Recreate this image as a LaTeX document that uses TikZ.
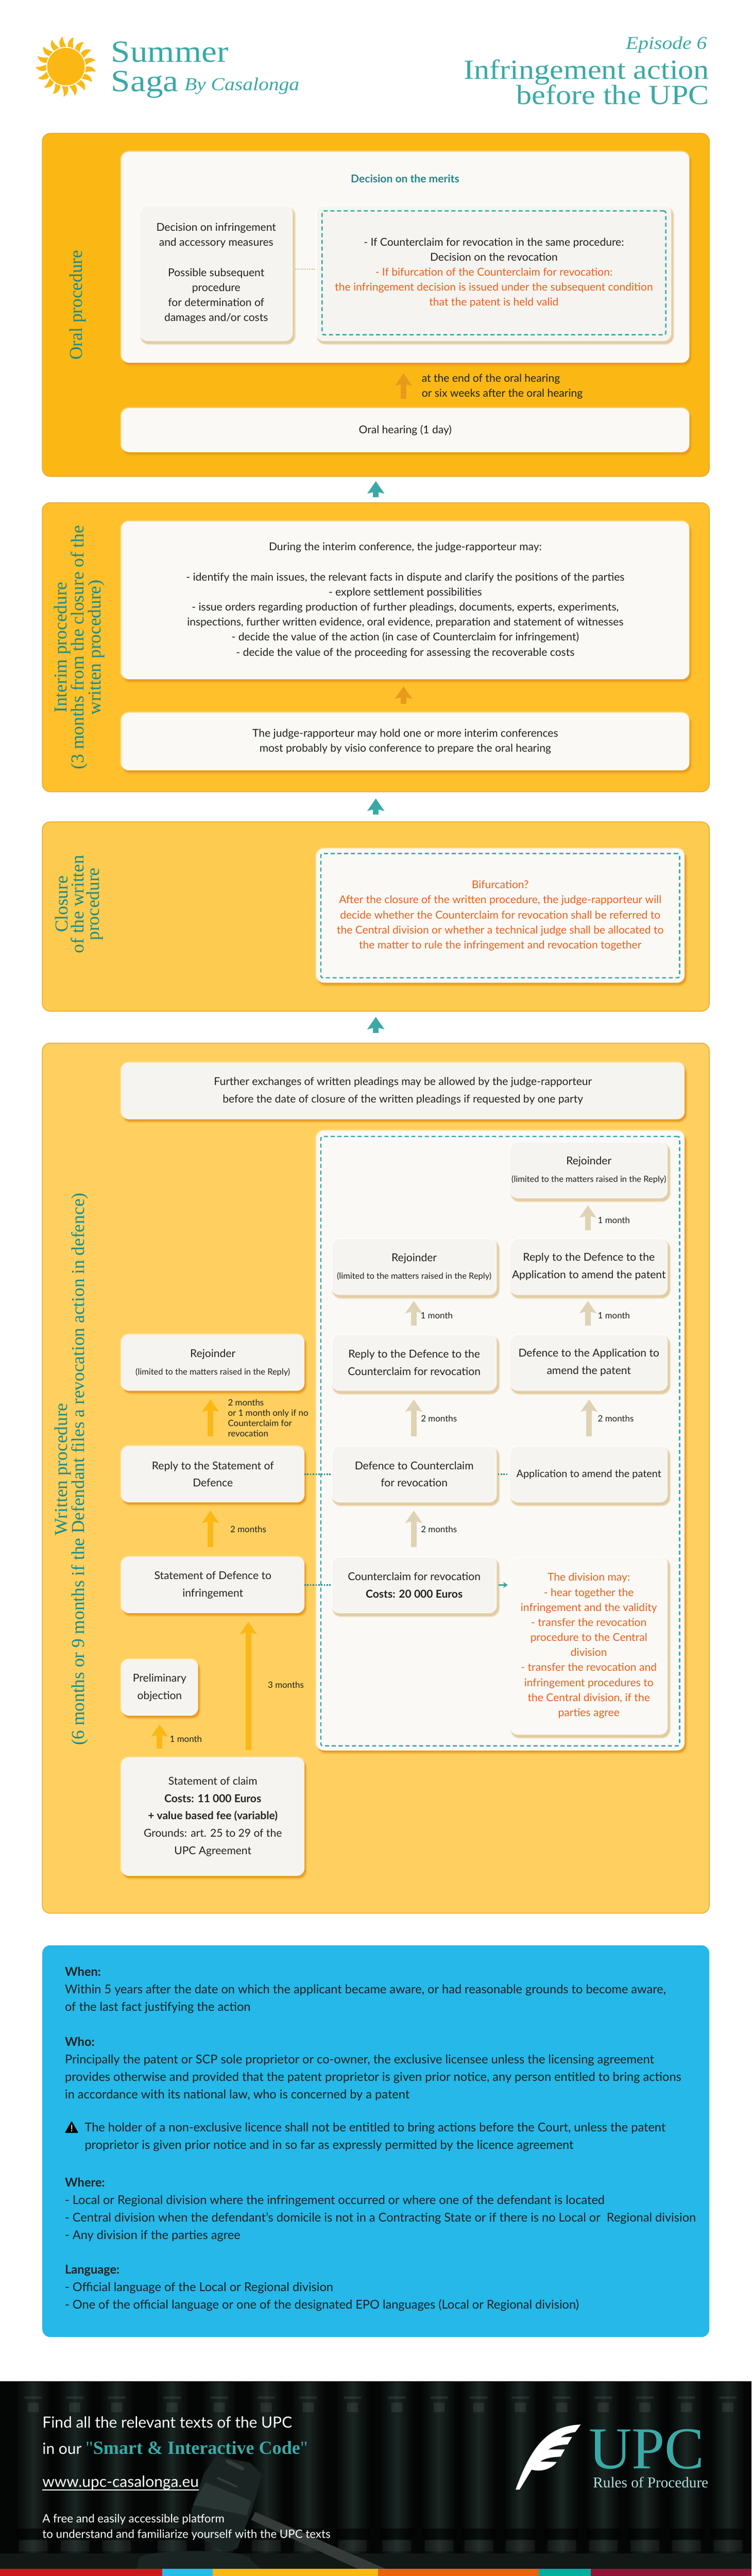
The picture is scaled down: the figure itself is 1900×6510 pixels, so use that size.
\documentclass[tikz,border=0pt]{standalone}
\usepackage{fontspec}
\usepackage{tikz}
\usetikzlibrary{arrows.meta}
\setmainfont{Lato}
\newfontfamily\headfont[FakeStretch=1.12]{Liberation Serif}
\newfontfamily\plainserif{Liberation Serif}

\definecolor{tealtitle}{HTML}{3AA9A6}
\definecolor{tealdark}{HTML}{1C8A88}
\definecolor{oraltone}{HTML}{FBB815}
\definecolor{interimtone}{HTML}{FFC02B}
\definecolor{closuretone}{HTML}{FCCB4F}
\definecolor{writtentone}{HTML}{FFD060}
\definecolor{paneledge}{HTML}{EBA82A}
\definecolor{bluetone}{HTML}{25B8E8}
\definecolor{amber}{HTML}{E79A1B}
\definecolor{beige}{HTML}{DFD3B5}
\definecolor{paperone}{HTML}{FAF9F6}
\definecolor{papertwo}{HTML}{F5F4F0}
\definecolor{inktext}{HTML}{222222}
\definecolor{redtext}{HTML}{E8601A}
\definecolor{footerdark}{HTML}{040606}
\definecolor{spinetone}{HTML}{1A2522}
\definecolor{tabletone}{HTML}{111816}
\definecolor{woodtone}{HTML}{1A2422}
\definecolor{bandtone}{HTML}{2A3634}
\definecolor{handletone}{HTML}{353B39}

\tikzset{
softshadow/.style={
  preaction={draw=white,line width=7pt,opacity=.3},
  preaction={fill=#1,draw=#1,line width=9pt,opacity=.18,transform canvas={xshift=4pt,yshift=-6pt}},
  preaction={fill=#1,draw=#1,line width=4pt,opacity=.35,transform canvas={xshift=4pt,yshift=-6pt}},
  preaction={fill=#1,opacity=.8,transform canvas={xshift=3pt,yshift=-5pt}}},
panel/.style={shape=rectangle,rounded corners=20pt,draw=paneledge,line width=2pt,minimum width=1686pt,inner sep=0pt},
bigbox/.style={shape=rectangle,rounded corners=19pt,fill=paperone,draw=white,line width=1pt,softshadow=amber,align=center,text=inktext,font=\fontsize{27.4}{38}\selectfont,inner sep=0pt},
subbox/.style={bigbox,fill=papertwo},
innerbox/.style={subbox,softshadow=beige},
dashbox/.style={shape=rectangle,rounded corners=5pt,draw=tealtitle,line width=3.5pt,dash pattern=on 10pt off 7pt,align=center,font=\fontsize{27.4}{38}\selectfont,inner sep=0pt},
leftcol/.style={minimum width=462pt,minimum height=141pt,font=\fontsize{27.4}{44}\selectfont},
midcol/.style={minimum width=416pt,minimum height=141pt,font=\fontsize{27.4}{44}\selectfont},
rightcol/.style={minimum width=397pt,minimum height=141pt,font=\fontsize{27.4}{44}\selectfont},
blockarrow/.style={line width=14.5pt,-{Stealth[width=42pt,length=31pt,inset=5pt]}},
delay/.style={anchor=west,text=inktext,font=\fontsize{22}{26}\selectfont,align=left,inner sep=0pt},
sidetitle/.style={rotate=90,text=tealdark,align=center,font=\plainserif\fontsize{46}{40}\selectfont,inner sep=0pt},
bluetext/.style={anchor=west,text=inktext,align=left,font=\fontsize{30.7}{44.3}\selectfont,inner sep=0pt},
darktext/.style={anchor=west,text=white,align=left,inner sep=0pt},
linkdots/.style={draw=tealdark,line width=3.5pt,dash pattern=on 3.5pt off 3.5pt},
}

\newcommand{\rejoindernote}{{\fontsize{21.4}{44}\selectfont (limited to the matters raised in the Reply)}}

\begin{document}
\begin{tikzpicture}[x=1pt,y=-1pt]
\useasboundingbox (0,0) rectangle (1900,6510);

% header
\foreach \a in {0,...,16}
  \fill[oraltone,shift={(166.7,168.3)},rotate=\a*21.176]
    (-13.3,-48) .. controls (-20,-60) and (-16,-70) .. (-8,-76)
    .. controls (-8,-65) and (-3,-58) .. (0.7,-50) .. controls (-4,-50.5) and (-9,-50) .. cycle;
\node[shape=circle,fill=oraltone,minimum size=95pt,inner sep=0pt] (sun) at (166.7,168.3) {};
\node[anchor=base west,text=tealtitle,inner sep=0pt,font=\headfont\fontsize{78}{78}\selectfont] (summer) at (281,157) {Summer};
\node[anchor=base west,text=tealtitle,inner sep=0pt,font=\headfont\fontsize{78}{78}\selectfont] (saga) at (281,231) {Saga};
\node[anchor=base west,text=tealtitle,inner sep=0pt,font=\headfont\itshape\fontsize{46}{46}\selectfont] (by) at (466,228) {By Casalonga};
\node[anchor=base east,text=tealtitle,inner sep=0pt,font=\headfont\itshape\fontsize{46}{46}\selectfont] (episode) at (1787,124) {Episode 6};
\node[anchor=base east,text=tealtitle,inner sep=0pt,font=\headfont\fontsize{70}{70}\selectfont] (titleone) at (1793,200.5) {Infringement action};
\node[anchor=base east,text=tealtitle,inner sep=0pt,font=\headfont\fontsize{70}{70}\selectfont] (titletwo) at (1793,263) {before the UPC};

% panels
\node[panel,fill=oraltone,minimum height=867pt] (oral) at (950,770.5) {};
\node[panel,fill=interimtone,minimum height=730.5pt] (interim) at (950,1635.7) {};
\node[panel,fill=closuretone,minimum height=478.5pt] (closure) at (950,2316.2) {};
\node[panel,fill=writtentone,minimum height=2199pt] (written) at (950,3735.5) {};
\node[panel,fill=bluetone,draw=none,minimum height=990pt] (blue) at (950,5411) {};

\node[sidetitle] (oraltitle) at (197,771) {Oral procedure};
\node[sidetitle] (interimtitle) at (200,1636) {Interim procedure\\(3 months from the closure of the\\written procedure)};
\node[sidetitle] (closuretitle) at (200,2285) {Closure\\of the written\\procedure};
\node[sidetitle] (writtentitle) at (180,3713) {Written procedure\\(6 months or 9 months if the Defendant files a revocation action in defence)};

\draw[draw=tealtitle,blockarrow,shorten <=12.5pt,shorten >=11pt] (interim.north) -- (oral.south);
\draw[draw=tealtitle,blockarrow,shorten <=17pt,shorten >=16pt] (closure.north) -- (interim.south);
\draw[draw=tealtitle,blockarrow,shorten <=24.5pt,shorten >=13.5pt] (written.north) -- (closure.south);

% oral procedure
\node[bigbox,minimum width=1435pt,minimum height=532pt] (merits) at (1024.5,650) {};
\node[text=tealdark,font=\bfseries\fontsize{27.4}{38}\selectfont] (meritstitle) at (1024,451) {Decision on the merits};
\node[subbox,softshadow=beige,minimum width=385pt,minimum height=341pt] (meritsleft) at (546.5,690.5) {Decision on infringement\\and accessory measures\\[38pt]Possible subsequent\\procedure\\for determination of\\damages and/or costs};
\node[subbox,softshadow=beige,minimum width=896pt,minimum height=341pt] (meritsright) at (1248,690.5) {};
\node[dashbox,minimum width=869pt,minimum height=313pt,text=inktext] (meritsdash) at (1248.5,689.5) {- If Counterclaim for revocation in the same procedure:\\Decision on the revocation\\\textcolor{redtext}{- If bifurcation of the Counterclaim for revocation:}\\\textcolor{redtext}{the infringement decision is issued under the subsequent condition}\\\textcolor{redtext}{that the patent is held valid}};
\draw[draw=beige,line width=3.5pt,dash pattern=on 3.5pt off 2.5pt] ([yshift=10pt]meritsleft.east) -- ([yshift=10pt]meritsright.west);
\node[bigbox,minimum width=1435pt,minimum height=110pt] (hearing) at (1024.5,1087) {Oral hearing (1 day)};
\draw[draw=amber,blockarrow,shorten <=24pt,shorten >=27pt] ([xshift=-4.5pt]hearing.north) -- ([xshift=-4.5pt]merits.south);
\node[delay,font=\fontsize{27.4}{38}\selectfont] (hearinglabel) at (1066,976.5) {at the end of the oral hearing\\or six weeks after the oral hearing};

% interim procedure
\node[bigbox,minimum width=1435pt,minimum height=398pt] (conference) at (1024.5,1517) {During the interim conference, the judge-rapporteur may:\\[38pt]- identify the main issues, the relevant facts in dispute and clarify the positions of the parties\\- explore settlement possibilities\\- issue orders regarding production of further pleadings, documents, experts, experiments,\\inspections, further written evidence, oral evidence, preparation and statement of witnesses\\- decide the value of the action (in case of Counterclaim for infringement)\\- decide the value of the proceeding for assessing the recoverable costs};
\node[bigbox,minimum width=1435pt,minimum height=144.5pt] (holding) at (1024.5,1874) {The judge-rapporteur may hold one or more interim conferences\\most probably by visio conference to prepare the oral hearing};
\draw[draw=amber,blockarrow,shorten <=23pt,shorten >=18pt] ([xshift=-4.5pt]holding.north) -- ([xshift=-4.5pt]conference.south);

% closure
\node[bigbox,minimum width=930pt,minimum height=338pt] (bifurcation) at (1265,2314) {};
\node[dashbox,minimum width=907pt,minimum height=314pt,text=redtext] (bifdash) at (1264.5,2314) {Bifurcation?\\After the closure of the written procedure, the judge-rapporteur will\\decide whether the Counterclaim for revocation shall be referred to\\the Central division or whether a technical judge shall be allocated to\\the matter to rule the infringement and revocation together};

% written procedure
\node[subbox,minimum width=1423pt,minimum height=142pt,font=\fontsize{27.4}{45}\selectfont] (further) at (1018.5,2757) {Further exchanges of written pleadings may be allowed by the judge-rapporteur\\before the date of closure of the written pleadings if requested by one party};
\node[bigbox,minimum width=930pt,minimum height=1565pt] (counterzone) at (1265,3640.5) {};
\node[dashbox,minimum width=907pt,minimum height=1540pt] (counterdash) at (1264.5,3642) {};

\node[innerbox,rightcol] (rejoinderc) at (1488.5,2957) {Rejoinder\\\rejoindernote};
\node[innerbox,midcol] (rejoinderb) at (1047,3201.5) {Rejoinder\\\rejoindernote};
\node[innerbox,rightcol] (replyapp) at (1488.5,3201.5) {Reply to the Defence to the\\Application to amend the patent};
\node[subbox,leftcol] (rejoindera) at (538,3443.5) {Rejoinder\\\rejoindernote};
\node[innerbox,midcol] (replycounter) at (1047,3443.5) {Reply to the Defence to the\\Counterclaim for revocation};
\node[innerbox,rightcol] (defenceapp) at (1488.5,3443.5) {Defence to the Application to\\amend the patent};
\node[subbox,leftcol] (replydef) at (538,3725.5) {Reply to the Statement of\\Defence};
\node[innerbox,midcol] (defcounter) at (1047,3725.5) {Defence to Counterclaim\\for revocation};
\node[innerbox,rightcol,font=\fontsize{25.8}{44}\selectfont] (application) at (1488.5,3725.5) {Application to amend the patent};
\node[subbox,leftcol] (statdef) at (538,4005.5) {Statement of Defence to\\infringement};
\node[innerbox,midcol] (counterclaim) at (1047,4005.5) {Counterclaim for revocation\\\textbf{Costs: 20 000 Euros}};
\node[bigbox,softshadow=beige,minimum width=397pt,minimum height=448pt,text=redtext] (division) at (1488.5,4159) {The division may:\\- hear together the\\infringement and the validity\\- transfer the revocation\\procedure to the Central\\division\\- transfer the revocation and\\infringement procedures to\\the Central division, if the\\parties agree};
\node[subbox,minimum width=193pt,minimum height=141pt,font=\fontsize{27.4}{44}\selectfont] (prelim) at (403.5,4264.5) {Preliminary\\objection};
\node[subbox,minimum width=462pt,minimum height=298pt,font=\fontsize{27.4}{44}\selectfont] (claim) at (538,4591) {Statement of claim\\\textbf{Costs: 11 000 Euros}\\\textbf{+ value based fee (variable)}\\Grounds: art. 25 to 29 of the\\UPC Agreement};

\draw[draw=beige,blockarrow,shorten <=22pt,shorten >=18pt] ([xshift=-2.5pt]replyapp.north) -- ([xshift=-2.5pt]rejoinderc.south);
\draw[draw=beige,blockarrow,shorten <=22pt,shorten >=15pt] ([xshift=-1pt]replycounter.north) -- ([xshift=-1pt]rejoinderb.south);
\draw[draw=beige,blockarrow,shorten <=22pt,shorten >=15pt] ([xshift=-2.5pt]defenceapp.north) -- ([xshift=-2.5pt]replyapp.south);
\draw[draw=beige,blockarrow,shorten <=24pt,shorten >=22pt] ([xshift=-1pt]defcounter.north) -- ([xshift=-1pt]replycounter.south);
\draw[draw=beige,blockarrow,shorten <=24pt,shorten >=22pt] ([xshift=.5pt]application.north) -- ([xshift=.5pt]defenceapp.south);
\draw[draw=beige,blockarrow,shorten <=24pt,shorten >=21pt] ([xshift=-1pt]counterclaim.north) -- ([xshift=-1pt]defcounter.south);
\draw[draw=oraltone,blockarrow,shorten <=24pt,shorten >=22pt] ([xshift=-6pt]replydef.north) -- ([xshift=-6pt]rejoindera.south);
\draw[draw=oraltone,blockarrow,shorten <=24pt,shorten >=21pt] ([xshift=-6pt]statdef.north) -- ([xshift=-6pt]replydef.south);
\draw[draw=oraltone,blockarrow,shorten <=22pt,shorten >=22pt] (claim.north -| prelim) -- (prelim.south);
\draw[draw=oraltone,blockarrow,shorten <=19pt,shorten >=22pt] ([xshift=90pt]claim.north) -- ([xshift=90pt]statdef.south);

\draw[linkdots] (replydef.east) -- (defcounter.west);
\draw[linkdots] (statdef.east) -- (counterclaim.west);
\draw[linkdots,shorten <=3pt,shorten >=4pt] (defcounter.east) -- (application.west);
\draw[draw=tealtitle,line width=3.5pt,-{Stealth[width=15pt,length=11pt,inset=2pt]},shorten <=5pt,shorten >=6pt] (counterclaim.east) -- (counterclaim.east -| division.west);

\node[delay] (monthc) at (1511,3083) {1 month};
\node[delay] (monthb) at (1063,3325) {1 month};
\node[delay] (monthd) at (1511,3325) {1 month};
\node[delay] (twoa) at (576,3584) {2 months\\or 1 month only if no\\Counterclaim for\\revocation};
\node[delay] (twob) at (1064,3585) {2 months};
\node[delay] (twoc) at (1511,3585) {2 months};
\node[delay] (twod) at (582,3865) {2 months};
\node[delay] (twoe) at (1064,3865) {2 months};
\node[delay] (threea) at (677,4258) {3 months};
\node[delay] (monta) at (429,4394) {1 month};

% when, who, where
\node[bluetext] (whenblock) at (164,5030) {\textbf{When:}\\Within 5 years after the date on which the applicant became aware, or had reasonable grounds to become aware,\\of the last fact justifying the action};
\node[bluetext] (whoblock) at (164,5228.5) {\textbf{Who:}\\Principally the patent or SCP sole proprietor or co-owner, the exclusive licensee unless the licensing agreement\\provides otherwise and provided that the patent proprietor is given prior notice, any person entitled to bring actions\\in accordance with its national law, who is concerned by a patent};
\node[bluetext] (warnblock) at (214,5400) {The holder of a non-exclusive licence shall not be entitled to bring actions before the Court, unless the patent\\proprietor is given prior notice and in so far as expressly permitted by the licence agreement};
\fill[black,rounded corners=1.5pt] (181,5360) -- (198,5390) -- (164,5390) -- cycle;
\fill[white] (180,5370) rectangle (182.5,5381) (180,5383) rectangle (182.5,5386);
\node[bluetext] (whereblock) at (164,5584) {\textbf{Where:}\\- Local or Regional division where the infringement occurred or where one of the defendant is located\\- Central division when the defendant’s domicile is not in a Contracting State or if there is no Local or~ Regional division\\- Any division if the parties agree};
\node[bluetext] (langblock) at (164,5782.5) {\textbf{Language:}\\- Official language of the Local or Regional division\\- One of the official language or one of the designated EPO languages (Local or Regional division)};

% footer background
\fill[footerdark] (0,6018) rectangle (1900,6492);
\foreach \x in {84,189,295,435,554,673,779,891,1003,1110,1210,1315,1420,1525,1630,1735,1840} {
  \shade[left color=footerdark,right color=footerdark,middle color=spinetone] (\x-42,6020) rectangle (\x+42,6455);
  \fill[white,opacity=.08] (\x-22,6056) rectangle (\x+22,6062) (\x-14,6072) rectangle (\x+14,6096);
  \fill[black,opacity=.6] (\x-42,6390) rectangle (\x+42,6418);
  \fill[white,opacity=.05] (\x-36,6420) rectangle (\x+36,6448);
}
\fill[tabletone] (0,6452) rectangle (1900,6492);

% gavel
\fill[woodtone] (351,6467) .. controls (351,6440) and (631,6440) .. (631,6467) -- (660,6492) -- (345,6492) -- cycle;
\fill[handletone] (645,6348) -- (975,6492) -- (905,6492) -- (635,6368) -- cycle;
\fill[woodtone] (547,6207) -- (631,6223) -- (663,6253) -- (636,6345) -- (600,6440) -- (570,6450) -- (484,6400) -- (484,6343) -- (516,6250) -- cycle;
\fill[bandtone] (519,6273) -- (635,6320) -- (624,6357) -- (488,6330) -- cycle;
\draw[handletone,line width=10pt,line cap=round] (575,6220) -- (612,6238);
\draw[handletone,line width=5pt,line cap=round] (550,6262) -- (598,6284);

% feather
\fill[white] (1303.3,6291.7) .. controls (1340,6190) and (1380,6130) .. (1467.7,6127.3) -- (1454.3,6146) .. controls (1440,6148) and (1425,6152) .. (1417.7,6159.3) -- (1446,6158.3) -- (1435,6177.3) .. controls (1415,6178) and (1395,6183) .. (1386.7,6190) -- (1427.7,6190) -- (1417.3,6208.3) .. controls (1395,6209) and (1375,6213) .. (1365.7,6220.7) -- (1407.3,6221.7) .. controls (1395,6240) and (1365,6248) .. (1344,6241) -- (1313.3,6291.7) -- cycle;

\foreach \xa/\xb/\tone in {0/410/C8191A,410/538/25BCEB,538/956/FBB815,956/1362/E8640C,1362/1493/00AFA0,1493/1900/8F1538} {
  \definecolor{bartone}{HTML}{\tone}
  \fill[bartone] (\xa,6492) rectangle (\xb,6510);
}

% footer text
\node[darktext,font=\fontsize{39}{39}\selectfont] (findline) at (107,6121) {Find all the relevant texts of the UPC};
\node[darktext,font=\fontsize{39}{39}\selectfont] (codeline) at (107,6186) {in our \textcolor{tealtitle}{\plainserif\fontsize{47}{47}\selectfont "\textbf{Smart \& Interactive Code}"}};
\node[darktext,font=\fontsize{39}{39}\selectfont] (urlline) at (107,6275) {www.upc-casalonga.eu};
\draw[white,line width=2.5pt] ([yshift=1pt]urlline.south west) -- ([yshift=1pt]urlline.south east);
\node[darktext,font=\fontsize{29}{39}\selectfont] (freeline) at (107,6386) {A free and easily accessible platform\\to understand and familiarize yourself with the UPC texts};
\node[anchor=west,text=tealtitle,inner sep=0pt,font=\plainserif\fontsize{150}{150}\selectfont] (upcmark) at (1488,6190) {UPC};
\node[anchor=west,text=tealtitle!40!white,inner sep=0pt,font=\plainserif\fontsize{38}{38}\selectfont] (rules) at (1499,6273) {Rules of Procedure};

\end{tikzpicture}
\end{document}
